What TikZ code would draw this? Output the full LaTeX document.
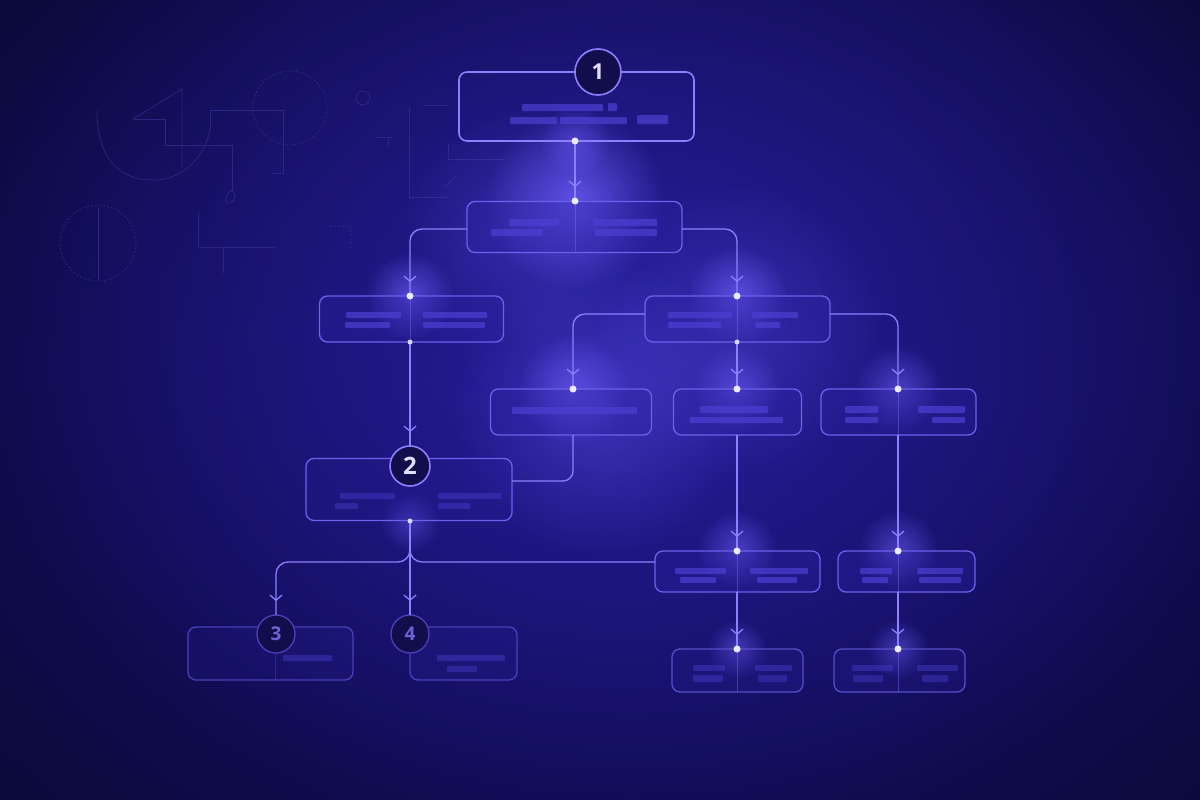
\documentclass[tikz,border=0pt]{standalone}
\usepackage{fontspec}
\newfontfamily\numfont{Open Sans}
\usetikzlibrary{arrows.meta,decorations.markings,fadings}
\definecolor{bg}{HTML}{0A0830}
\definecolor{bgglowa}{HTML}{18127A}
\definecolor{bgglowb}{HTML}{2C23A8}
\definecolor{boxfill}{HTML}{2A21A0}
\definecolor{boxdraw}{HTML}{6C60EC}
\definecolor{boxdim}{HTML}{4A40B8}
\definecolor{linec}{HTML}{8C80FF}
\definecolor{dotc}{HTML}{ECE8FF}
\definecolor{glowc}{HTML}{6F60FF}
\definecolor{barc}{HTML}{4C40D2}
\definecolor{decoc}{HTML}{3A3498}
\definecolor{numtxt}{HTML}{E2DEFF}
\definecolor{numdim}{HTML}{6E63D6}
\tikzfading[name=fuzzy, inner color=transparent!0, outer color=transparent!100]
\begin{document}
\begin{tikzpicture}[x=1pt,y=-1pt,
  bx/.style={draw=boxdraw, line width=1.3pt, rounded corners=8pt, fill=boxfill, fill opacity=0.35, inner sep=0pt, outer sep=0pt},
  bxdim/.style={bx, draw=boxdim, fill opacity=0.2},
  numc/.style={circle, draw=linec, line width=1.6pt, fill=bg!75!boxfill, inner sep=0pt, outer sep=0pt, text=numtxt, font=\numfont\bfseries},
  numcdim/.style={numc, draw=boxdim, line width=1.3pt, text=numdim, font=\numfont},
  ln/.style={draw=linec, color=linec, line width=1.3pt},
  arr/.style={postaction={decorate}, decoration={markings, mark=at position -14pt with {\arrow{Straight Barb[length=5pt,width=12pt,line width=1.3pt]}}}},
  dotn/.style={circle, fill=dotc, inner sep=0pt, minimum size=7pt},
  dots/.style={circle, fill=dotc!80!linec, inner sep=0pt, minimum size=5pt},
  bar/.style={fill=barc, fill opacity=0.7, rounded corners=1pt},
  bard/.style={fill=barc, fill opacity=0.4, rounded corners=1pt},
  divl/.style={draw=linec, draw opacity=0.35, line width=1pt},
  deco/.style={draw=decoc, draw opacity=0.6, line width=0.8pt},
  decod/.style={deco, dash pattern=on 2pt off 2pt}
]
% background
\fill[bg] (0,0) rectangle (1200,800);
\useasboundingbox (0,0) rectangle (1200,800);
\fill[bgglowa, path fading=fuzzy] (620,400) ellipse (960 and 720);
\fill[bgglowb, path fading=fuzzy, opacity=0.7] (630,320) ellipse (680 and 540);

% decorative faint geometry (top left)
\draw[deco] (133,119) -- (182,89) -- (182,168);
\draw[deco] (133,119) -- (165,119) -- (165,145) -- (232,145) -- (232,190);
\draw[deco] (232,190) .. controls (224,196) and (224,205) .. (230,203) .. controls (236,200) and (236,193) .. (232,190);
\draw[deco] (97,110) .. controls (97,160) and (120,180) .. (153,180) .. controls (185,180) and (205,155) .. (210,130);
\draw[deco] (210,130) -- (210,110) -- (283,110) -- (283,173) -- (273,173);
\draw[decod] (290,108) circle (37);
\draw[deco] (363,98) circle (7);
\draw[deco] (377,137) -- (393,137) (388,137) -- (388,146);
\draw[deco] (423,105) -- (447,105);
\draw[deco] (409,107) -- (409,197) -- (447,197);
\draw[deco] (448,143) -- (448,159) -- (505,159);
\draw[deco] (445,187) -- (455,177);
\draw[decod] (98,243) circle (38);
\draw[deco] (98,207) -- (98,280);
\draw[deco] (198,213) -- (198,247);
\draw[deco] (200,247) -- (275,247) (223,247) -- (223,273);
\draw[decod] (330,226) -- (350,226) -- (350,250);

% glows
\foreach \gx/\gy/\gr/\go in {575/200/90/0.75, 575/141/36/0.5, 410/296/44/0.65, 737/296/50/0.65, 573/389/56/0.6, 737/389/44/0.55, 898/389/44/0.55, 410/522/30/0.4, 737/550/40/0.55, 898/550/40/0.55, 737/649/30/0.5, 898/649/30/0.5, 600/405/150/0.35, 740/330/150/0.25, 520/230/120/0.25}
  \fill[glowc, opacity=\go, path fading=fuzzy] (\gx,\gy) circle (\gr);

% boxes
\node[bx, draw=linec, line width=1.6pt, fill opacity=0.12, minimum width=235pt, minimum height=69pt] (b1) at (576.5,106.5) {};
\node[bx, minimum width=215pt, minimum height=51pt] (bA) at (574.5,227) {};
\node[bx, minimum width=184pt, minimum height=46pt] (bB) at (411.5,319) {};
\node[bx, minimum width=185pt, minimum height=46pt] (bC) at (737.5,319) {};
\node[bx, minimum width=161pt, minimum height=46pt] (bD) at (571,412) {};
\node[bx, minimum width=128pt, minimum height=46pt] (bE) at (737.5,412) {};
\node[bx, minimum width=155pt, minimum height=46pt] (bF) at (898.5,412) {};
\node[bx, fill opacity=0.18, minimum width=206pt, minimum height=62pt] (b2) at (409,489.5) {};
\node[bx, minimum width=165pt, minimum height=41pt] (bG) at (737.5,571.5) {};
\node[bx, minimum width=137pt, minimum height=41pt] (bH) at (906.5,571.5) {};
\node[bxdim, minimum width=165pt, minimum height=53pt] (b3) at (270.5,653.5) {};
\node[bxdim, minimum width=107pt, minimum height=53pt] (b4) at (463.5,653.5) {};
\node[bxdim, draw=boxdraw!80!bg, minimum width=131pt, minimum height=43pt] (bI) at (737.5,670.5) {};
\node[bxdim, draw=boxdraw!80!bg, minimum width=131pt, minimum height=43pt] (bJ) at (899.5,670.5) {};

% dividers
\draw[divl] (575,202) -- (575,252);
\draw[divl] (410,296) -- (410,342);
\draw[divl] (737,296) -- (737,342);
\draw[divl] (898,389) -- (898,435);
\draw[divl] (737,551) -- (737,592);
\draw[divl] (898,551) -- (898,592);
\draw[divl] (737,649) -- (737,692);
\draw[divl] (898,649) -- (898,692);
\draw[divl, draw opacity=0.2] (275,652) -- (275,680);

% placeholder bars
\fill[bar] (522,104) rectangle (603,111);
\fill[bar] (608,103) rectangle (617,111);
\fill[bar] (510,117) rectangle (557,124);
\fill[bar] (560,117) rectangle (627,124);
\fill[bar] (637,115) rectangle (668,124);
\fill[bar] (509,219) rectangle (559,226);
\fill[bar] (491,229) rectangle (543,236);
\fill[bar] (593,219) rectangle (657,226);
\fill[bar] (595,229) rectangle (657,236);
\fill[bar] (346,312) rectangle (401,318);
\fill[bar] (345,322) rectangle (390,328);
\fill[bar] (423,312) rectangle (487,318);
\fill[bar] (423,322) rectangle (485,328);
\fill[bar] (668,312) rectangle (732,318);
\fill[bar] (668,322) rectangle (721,328);
\fill[bar] (752,312) rectangle (798,318);
\fill[bar] (755,322) rectangle (780,328);
\fill[bar] (512,407) rectangle (637,414);
\fill[bar] (700,406) rectangle (768,413);
\fill[bar] (690,417) rectangle (783,423);
\fill[bar] (845,406) rectangle (878,413);
\fill[bar] (845,417) rectangle (878,423);
\fill[bar] (918,406) rectangle (965,413);
\fill[bar] (932,417) rectangle (965,423);
\fill[bard] (340,493) rectangle (395,499);
\fill[bard] (335,503) rectangle (358,509);
\fill[bard] (438,493) rectangle (501,499);
\fill[bard] (438,503) rectangle (470,509);
\fill[bar] (675,568) rectangle (726,574);
\fill[bar] (680,577) rectangle (716,583);
\fill[bar] (750,568) rectangle (808,574);
\fill[bar] (757,577) rectangle (797,583);
\fill[bar] (860,568) rectangle (892,574);
\fill[bar] (862,577) rectangle (888,583);
\fill[bar] (917,568) rectangle (963,574);
\fill[bar] (919,577) rectangle (961,583);
\fill[bard] (283,655) rectangle (332,661);
\fill[bard] (437,655) rectangle (505,661);
\fill[bard] (447,666) rectangle (477,672);
\fill[bard] (693,665) rectangle (725,671);
\fill[bard] (693,675) rectangle (723,682);
\fill[bard] (755,665) rectangle (792,671);
\fill[bard] (758,675) rectangle (787,682);
\fill[bard] (852,665) rectangle (893,671);
\fill[bard] (853,675) rectangle (883,682);
\fill[bard] (917,665) rectangle (958,671);
\fill[bard] (922,675) rectangle (948,682);

% number circles
\node[numc, minimum size=46pt, font=\numfont\bfseries\fontsize{22}{22}\selectfont] (n1) at (598,72) {1};
\node[numc, minimum size=40pt, font=\numfont\bfseries\fontsize{24}{24}\selectfont] (n2) at (410,466) {2};
\node[numcdim, minimum size=38pt, font=\numfont\bfseries\fontsize{19}{19}\selectfont] (n3) at (276,634) {3};
\node[numcdim, minimum size=38pt, font=\numfont\bfseries\fontsize{19}{19}\selectfont] (n4) at (410,634) {4};

% connection coordinates
\coordinate (p1b) at (575,141);
\coordinate (pAt) at (575,201);
\coordinate (pAl) at (467,229);
\coordinate (pAr) at (682,229);
\coordinate (pBt) at (410,296);
\coordinate (pBb) at (410,342);
\coordinate (pCt) at (737,296);
\coordinate (pCl) at (645,314);
\coordinate (pCr) at (830,314);
\coordinate (pCb) at (737,342);
\coordinate (pDt) at (573,389);
\coordinate (pDb) at (573,435);
\coordinate (pEt) at (737,389);
\coordinate (pEb) at (737,435);
\coordinate (pFt) at (898,389);
\coordinate (pFb) at (898,435);
\coordinate (p2r) at (512,481);
\coordinate (p2b) at (410,521);
\coordinate (pGt) at (737,551);
\coordinate (pGl) at (655,562);
\coordinate (pGb) at (737,592);
\coordinate (pHt) at (898,551);
\coordinate (pHb) at (898,592);
\coordinate (pIt) at (737,649);
\coordinate (pJt) at (898,649);

% connectors
\draw[ln, arr] (p1b) -- (pAt);
\draw[ln, arr, rounded corners=12pt] (pAl) -| (pBt);
\draw[ln, arr, rounded corners=12pt] (pAr) -| (pCt);
\draw[ln, arr] (pBb) -- (n2.north);
\draw[ln, arr, rounded corners=12pt] (pCl) -| (pDt);
\draw[ln, arr] (pCb) -- (pEt);
\draw[ln, arr, rounded corners=12pt] (pCr) -| (pFt);
\draw[ln, rounded corners=10pt] (pDb) |- (p2r);
\draw[ln, arr] (pEb) -- (pGt);
\draw[ln, arr] (pFb) -- (pHt);
\draw[ln, arr, rounded corners=12pt] (p2b) -- (410,562) -| (n3.north);
\draw[ln, arr] (p2b) -- (n4.north);
\draw[ln, rounded corners=12pt] (p2b) -- (410,562) -- (pGl);
\draw[ln, arr] (pGb) -- (pIt);
\draw[ln, arr] (pHb) -- (pJt);

% dots
\foreach \d in {p1b,pAt,pBt,pCt,pDt,pEt,pFt,pGt,pHt,pIt,pJt}
  \node[dotn] at (\d) {};
\foreach \d in {pBb,pCb,p2b}
  \node[dots] at (\d) {};
\end{tikzpicture}
\end{document}
